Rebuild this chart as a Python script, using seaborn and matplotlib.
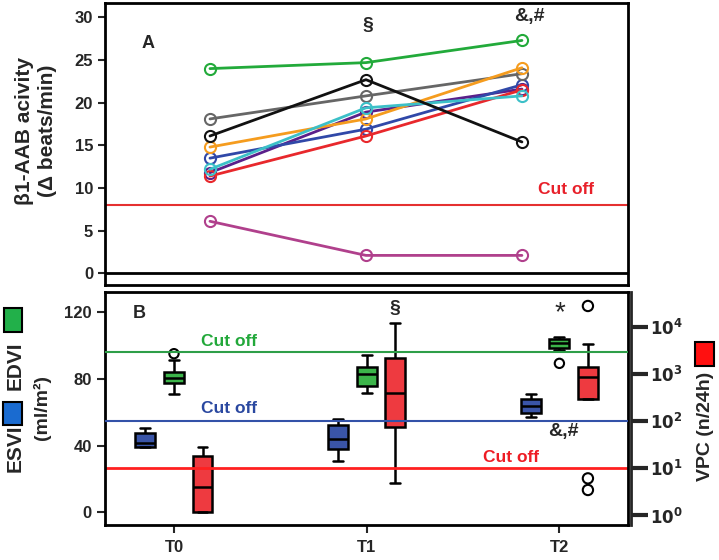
import matplotlib
matplotlib.use("Agg")
import matplotlib.pyplot as plt
import matplotlib.patches as mpatches
from matplotlib.ticker import FixedLocator, NullLocator
import pandas as pd
import seaborn as sns

timepoints = ["T0", "T1", "T2"]

# panel A: b1-AAB activity of each patient (delta beats/min) at T0, T1, T2
aab_magenta = [6.1, 2.1, 2.1]
aab_purple = [11.8, 18.9, 21.6]
aab_blue = [13.5, 16.9, 22.1]
aab_red = [11.4, 16.1, 21.5]
aab_gray = [18.1, 20.8, 23.4]
aab_orange = [14.8, 18.1, 24.1]
aab_cyan = [12.2, 19.4, 20.8]
aab_black = [16.1, 22.7, 15.4]
aab_green = [24.0, 24.7, 27.3]
aab_cutoff = 8

# panel B: box summaries (whisker low, q1, median, q3, whisker high)
esvi_lo = [39.4, 31.0, 57.0]
esvi_q1 = [39.4, 38.0, 59.8]
esvi_med = [41.4, 43.8, 63.8]
esvi_q3 = [47.8, 52.4, 68.0]
esvi_hi = [50.8, 55.8, 71.0]

edvi_lo = [70.8, 71.4, 97.4]
edvi_q1 = [77.4, 75.8, 98.4]
edvi_med = [80.8, 83.0, 101.8]
edvi_q3 = [84.4, 87.0, 104.0]
edvi_hi = [91.4, 94.4, 105.0]
edvi_out_time = [0, 2]
edvi_out_val = [95.2, 89.4]

vpc_lo = [1.14, 4.85, 286]
vpc_q1 = [1.14, 75, 286]
vpc_med = [4.0, 384, 839]
vpc_q3 = [18.2, 2120, 1410]
vpc_hi = [27.4, 11750, 4270]
vpc_out_time = [2, 2, 2]
vpc_out_val = [27400, 6.0, 3.4]

edvi_cutoff = 96
esvi_cutoff = 55
vpc_cutoff = 10

line_colors = {
    "magenta": "#b0408c", "purple": "#5a1f8a", "blue": "#3048a8",
    "red": "#e8282c", "gray": "#666666", "orange": "#f59c1e",
    "cyan": "#3cc0c8", "black": "#111111", "green": "#22aa3a",
}
box_colors = {"ESVI": "#3a55a8", "EDVI": "#3cb54a", "VPC": "#ee3a40"}
box_offset = {"ESVI": -0.148, "EDVI": 0.0, "VPC": 0.148}

sns.set_style("ticks")
plt.rcParams["font.family"] = ["Liberation Sans", "DejaVu Sans"]

fig = plt.figure(figsize=(7.19, 5.60), dpi=100)
ax_a = fig.add_axes([105 / 719, 1 - 285 / 560, 523 / 719, 282 / 560])
ax_b = fig.add_axes([105 / 719, 1 - 525 / 560, 523 / 719, 233.3 / 560])

# ---- panel A
series = {
    "magenta": aab_magenta, "purple": aab_purple, "blue": aab_blue,
    "red": aab_red, "gray": aab_gray, "orange": aab_orange,
    "cyan": aab_cyan, "black": aab_black, "green": aab_green,
}
rows = []
for name, vals in series.items():
    for t, v in enumerate(vals):
        rows.append((name, t, v))
df_a = pd.DataFrame(rows, columns=["patient", "time", "activity"])

ax_a.axhline(0, color="black", lw=2, zorder=1)
ax_a.axhline(aab_cutoff, color="#e53030", lw=1.5, zorder=1)
sns.lineplot(data=df_a, x="time", y="activity", hue="patient",
             hue_order=list(series.keys()), palette=line_colors,
             marker="o", markersize=8, markerfacecolor="none",
             markeredgewidth=1.5, linewidth=2, errorbar=None,
             legend=False, ax=ax_a)
for line in ax_a.lines[2:]:
    line.set_markeredgecolor(line.get_color())
    line.set_markerfacecolor("none")

ax_a.set_xlim(-0.673, 2.68)
ax_a.set_ylim(-1.37, 31.69)
ax_a.set_xticks([])
ax_a.set_yticks([0, 5, 10, 15, 20, 25, 30])
ax_a.set_xlabel("")
ax_a.set_ylabel("")
ax_a.tick_params(axis="y", length=5, width=1.5, labelsize=12)
for lab in ax_a.get_yticklabels():
    lab.set_fontweight("bold")
for sp in ax_a.spines.values():
    sp.set_visible(True)
    sp.set_linewidth(2)
    sp.set_color("black")

ax_a.text(-0.40, 27.0, "A", fontsize=13, fontweight="bold", ha="center", va="center")
ax_a.text(1.01, 29.1, "§", fontsize=14, fontweight="bold", ha="center", va="center")
ax_a.text(2.05, 30.1, "&,#", fontsize=14, fontweight="bold", ha="center", va="center")
ax_a.text(2.28, 9.8, "Cut off", fontsize=12.5, fontweight="bold", color="#e8202a",
          ha="center", va="center")

# ---- panel B
def box_rows(measure, lo, q1, med, q3, hi):
    out = []
    for t in range(len(timepoints)):
        for v in (lo[t], q1[t], med[t], q3[t], hi[t]):
            out.append((measure, t, v))
    return out

df_vol = pd.DataFrame(box_rows("ESVI", esvi_lo, esvi_q1, esvi_med, esvi_q3, esvi_hi)
                      + box_rows("EDVI", edvi_lo, edvi_q1, edvi_med, edvi_q3, edvi_hi),
                      columns=["measure", "time", "value"])
df_vpc = pd.DataFrame(box_rows("VPC", vpc_lo, vpc_q1, vpc_med, vpc_q3, vpc_hi),
                      columns=["measure", "time", "value"])
hue_order = ["ESVI", "EDVI", "VPC"]
box_kws = dict(x="time", y="value", hue="measure", hue_order=hue_order,
               palette=box_colors, native_scale=True, width=0.444, gap=0.3,
               dodge=True, whis=(0, 100), saturation=1, linecolor="black",
               linewidth=1.8, legend=False)

ax2 = ax_b.twinx()
sns.boxplot(data=df_vpc, log_scale=(False, True), ax=ax2, **box_kws)
sns.scatterplot(x=[t + box_offset["VPC"] for t in vpc_out_time], y=vpc_out_val,
                marker="o", s=55, facecolor="none", edgecolor="black",
                linewidth=1.5, ax=ax2)
ax2.axhline(vpc_cutoff, color="#ff2020", lw=2, zorder=5)

sns.boxplot(data=df_vol, ax=ax_b, **box_kws)
sns.scatterplot(x=[t + box_offset["EDVI"] for t in edvi_out_time], y=edvi_out_val,
                marker="o", s=45, facecolor="none", edgecolor="black",
                linewidth=1.5, ax=ax_b)
ax_b.axhline(edvi_cutoff, color="#2e9e48", lw=1.5, zorder=5)
ax_b.axhline(esvi_cutoff, color="#3352a8", lw=1.5, zorder=5)

ax_b.set_zorder(ax2.get_zorder() + 1)
ax_b.patch.set_visible(False)

ax_b.set_xlim(-0.358, 2.356)
ax_b.set_ylim(-7.6, 132.4)
ax_b.set_xticks(range(len(timepoints)))
ax_b.set_xticklabels(timepoints)
ax_b.set_yticks([0, 40, 80, 120])
ax_b.set_xlabel("")
ax_b.set_ylabel("")
ax_b.tick_params(axis="both", length=6, width=1.5, labelsize=12)
ax_b.tick_params(axis="x", pad=5)
for lab in ax_b.get_xticklabels() + ax_b.get_yticklabels():
    lab.set_fontweight("bold")
for sp in ax_b.spines.values():
    sp.set_visible(True)
    sp.set_linewidth(2)
    sp.set_color("black")

ax2.set_ylim(0.614, 55080)
ax2.yaxis.set_major_locator(FixedLocator([1, 10, 100, 1000, 10000]))
ax2.yaxis.set_minor_locator(NullLocator())
ax2.set_yticklabels([r"$\mathbf{10^{0}}$", r"$\mathbf{10^{1}}$", r"$\mathbf{10^{2}}$",
                     r"$\mathbf{10^{3}}$", r"$\mathbf{10^{4}}$"])
ax2.set_ylabel("")
ax2.tick_params(axis="y", length=12, width=3, labelsize=12, pad=2)
ax2.spines["right"].set_position(("outward", 2))
ax2.spines["right"].set_linewidth(2)

ax_b.text(-0.18, 119.4, "B", fontsize=13, fontweight="bold", ha="center", va="center")
ax_b.text(0.287, 102.4, "Cut off", fontsize=12.5, fontweight="bold", color="#22a83a",
          ha="center", va="center")
ax_b.text(0.287, 62.4, "Cut off", fontsize=12.5, fontweight="bold", color="#2a48a0",
          ha="center", va="center")
ax_b.text(1.747, 33.0, "Cut off", fontsize=12.5, fontweight="bold", color="#ee1c24",
          ha="center", va="center")
ax_b.text(1.147, 122.4, "§", fontsize=14, fontweight="bold", ha="center", va="center")
ax_b.text(2.0, 119.5, "*", fontsize=20, ha="center", va="center")
ax_b.text(2.02, 48.4, "&,#", fontsize=14, fontweight="bold", ha="center", va="center")

# ---- outer labels
fig.text(36 / 719, 1 - 131 / 560, "β1-AAB acivity\n(Δ beats/min)", rotation=90,
         ha="center", va="center", fontsize=15, fontweight="bold", linespacing=1.25)
fig.text(15 / 719, 1 - 448 / 560, "ESVI", rotation=90, ha="center", va="center",
         fontsize=15, fontweight="bold")
fig.text(15 / 719, 1 - 366 / 560, "EDVI", rotation=90, ha="center", va="center",
         fontsize=15, fontweight="bold")
fig.text(42 / 719, 1 - 407 / 560, "(ml/m²)", rotation=90, ha="center", va="center",
         fontsize=14, fontweight="bold")
fig.text(706 / 719, 1 - 426 / 560, "VPC (n/24h)", rotation=90, ha="center", va="center",
         fontsize=14, fontweight="bold")

for (x0, y0, x1, y1), col in [((3, 402, 22, 425), "#1a6bd0"),
                              ((4, 308, 22, 332), "#22b04a"),
                              ((695, 342, 714, 366), "#ff1010")]:
    fig.add_artist(mpatches.Rectangle((x0 / 719, 1 - y1 / 560), (x1 - x0) / 719,
                                      (y1 - y0) / 560, transform=fig.transFigure,
                                      facecolor=col, edgecolor="black", lw=1.5))

fig.savefig("out.png", dpi=100)
